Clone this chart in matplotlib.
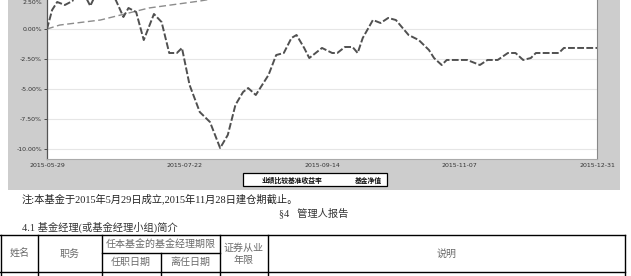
import matplotlib
matplotlib.use("Agg")
import matplotlib.pyplot as plt
import matplotlib.transforms as mtransforms
from matplotlib.lines import Line2D
from matplotlib.patches import Rectangle
import pandas as pd

W, H = 631, 276

# ---- data (% return) ----
fund_dates = ["2015-05-29", "2015-05-31", "2015-06-02", "2015-06-05", "2015-06-08", "2015-06-09",
              "2015-06-13", "2015-06-15", "2015-06-17", "2015-06-23", "2015-06-25", "2015-06-28",
              "2015-06-30", "2015-07-03", "2015-07-06", "2015-07-10", "2015-07-13", "2015-07-16",
              "2015-07-19", "2015-07-21", "2015-07-24", "2015-07-28", "2015-08-01", "2015-08-05",
              "2015-08-08", "2015-08-11", "2015-08-14", "2015-08-16", "2015-08-19", "2015-08-21",
              "2015-08-24", "2015-08-27", "2015-08-30", "2015-09-02", "2015-09-04", "2015-09-07",
              "2015-09-09", "2015-09-14", "2015-09-18", "2015-09-20", "2015-09-23", "2015-09-26",
              "2015-09-28", "2015-09-30", "2015-10-04", "2015-10-07", "2015-10-10", "2015-10-13",
              "2015-10-18", "2015-10-22", "2015-10-26", "2015-10-28", "2015-10-31", "2015-11-02",
              "2015-11-10", "2015-11-15", "2015-11-18", "2015-11-22", "2015-11-26", "2015-11-29",
              "2015-12-02", "2015-12-05", "2015-12-07", "2015-12-16", "2015-12-18", "2015-12-31"]
fund_values = [0.00, 1.58, 2.25, 2.00, 2.33, 2.83,
               2.75, 1.92, 2.83, 2.92, 2.42, 1.00,
               1.75, 1.42, -0.92, 1.25, 0.58, -2.00,
               -2.00, -1.58, -4.67, -6.92, -7.75, -9.92,
               -8.83, -6.33, -5.25, -4.92, -5.50, -4.83,
               -3.83, -2.17, -2.00, -0.75, -0.50, -1.58,
               -2.42, -1.58, -2.00, -2.00, -1.50, -1.50,
               -2.00, -0.75, 0.75, 0.50, 0.92, 0.75,
               -0.50, -0.92, -1.75, -2.42, -3.00, -2.58,
               -2.58, -3.00, -2.58, -2.58, -2.00, -2.00,
               -2.58, -2.42, -2.00, -2.00, -1.58, -1.58]

bench_dates = ["2015-05-29", "2015-06-03", "2015-06-19", "2015-06-27", "2015-07-08",
               "2015-07-28", "2015-09-26", "2015-12-31"]
bench_values = [0.00, 0.33, 0.75, 1.17, 1.75, 2.33, 4.50, 8.00]

y_ticks = [2.5, 0.0, -2.5, -5.0, -7.5, -10.0]
y_labels = ["2.50%", "0.00%", "-2.50%", "-5.00%", "-7.50%", "-10.00%"]
x_ticks = ["2015-05-29", "2015-07-22", "2015-09-14", "2015-11-07", "2015-12-31"]

legend_labels = ["业绩比较基准收益率", "基金净值"]
note_text = "注:本基金于2015年5月29日成立,2015年11月28日建仓期截止。"
section_text = "§4   管理人报告"
sub_text = "4.1 基金经理(或基金经理小组)简介"

# ---- helpers for pixel placement ----
def fx(x):
    return x / W

def fy(y):
    return 1 - y / H

FAM = ["Liberation Serif", "Noto Sans CJK SC", "DejaVu Sans"]

fig = plt.figure(figsize=(W / 100, H / 100), dpi=100)
fig.patch.set_facecolor("white")

# gray frame of the chart image
fig.add_artist(Rectangle((fx(8), fy(190)), fx(620) - fx(8), fy(-5) - fy(190),
                         transform=fig.transFigure, facecolor="#cdcdcd",
                         edgecolor="none", zorder=0))

ax = fig.add_axes([fx(47), fy(159), fx(597) - fx(47), (159 + 2) / H])
ax.set_facecolor("white")
ax.set_zorder(2)

fd = pd.to_datetime(fund_dates)
bd = pd.to_datetime(bench_dates)
ax.plot(bd, bench_values, color="#8c8c8c", lw=1.0, dashes=(5, 2.5), zorder=3)
ax.plot(fd, fund_values, color="#505050", lw=1.4, dashes=(3.5, 1.2), zorder=4)

ax.set_ylim(-10.833, 2.583)
ax.set_xlim(pd.Timestamp("2015-05-29"), pd.Timestamp("2015-12-31"))
ax.set_yticks(y_ticks)
ax.set_yticklabels(y_labels)
ax.set_xticks(pd.to_datetime(x_ticks))
ax.set_xticklabels(x_ticks)
ax.tick_params(axis="y", labelsize=4.5, length=2, width=0.6, pad=1.5, colors="#333333")
ax.tick_params(axis="x", labelsize=4.5, length=0, pad=3, colors="#333333")
ax.grid(axis="y", color="#e6e6e6", lw=0.8)
ax.set_axisbelow(True)
ax.spines["top"].set_visible(False)
ax.spines["left"].set_color("#555555")
ax.spines["left"].set_linewidth(0.9)
ax.spines["right"].set_color("#888888")
ax.spines["right"].set_linewidth(0.8)
ax.spines["bottom"].set_color("#aaaaaa")
ax.spines["bottom"].set_linewidth(0.8)

# keep the top tick label (cut in the source image) inside the figure
top_lbl = ax.get_yticklabels()[0]
top_lbl.set_transform(top_lbl.get_transform() +
                      mtransforms.ScaledTranslation(0, -3.5 / 100, fig.dpi_scale_trans))

# legend box
fig.add_artist(Rectangle((fx(243), fy(186)), fx(387) - fx(243), fy(173) - fy(186),
                         transform=fig.transFigure, facecolor="white",
                         edgecolor="black", lw=0.9, zorder=3))
fig.text(fx(292), fy(180), legend_labels[0], ha="center", va="center",
         fontsize=4.9, family=FAM, color="#111111", weight="bold", zorder=4)
fig.text(fx(368), fy(180), legend_labels[1], ha="center", va="center",
         fontsize=4.9, family=FAM, color="#111111", weight="bold", zorder=4)

# texts below chart
fig.text(fx(22), fy(199), note_text, ha="left", va="center", fontsize=7.4,
         family=FAM, color="#222222")
fig.text(fx(279), fy(213), section_text, ha="left", va="center", fontsize=7.4,
         family=FAM, color="#333333")
fig.text(fx(22), fy(227), sub_text, ha="left", va="center", fontsize=7.4,
         family=FAM, color="#333333")

# table
def hline(y, x0, x1):
    fig.add_artist(Line2D([fx(x0), fx(x1)], [fy(y), fy(y)], transform=fig.transFigure,
                          color="black", lw=1.0))

def vline(x, y0, y1):
    fig.add_artist(Line2D([fx(x), fx(x)], [fy(y0), fy(y1)], transform=fig.transFigure,
                          color="black", lw=1.0))

hline(235, 0, 625)
hline(253, 102, 220)
hline(272, 0, 625)
for xv in [0.5, 38, 102, 161, 220, 268, 625]:
    y0 = 253 if xv == 161 else 235
    vline(xv, y0, 276)

TC = "#6a6a6a"
cells = [("姓名", 20, 254), ("职务", 70, 254), ("任本基金的基金经理期限", 161, 244),
         ("任职日期", 131, 262), ("离任日期", 190, 262), ("证券从业", 244, 248),
         ("年限", 244, 260), ("说明", 447, 254)]
for t, x, y in cells:
    fig.text(fx(x), fy(y), t, ha="center", va="center", fontsize=7.2, family=FAM, color=TC)

fig.savefig("out.png", dpi=100)
